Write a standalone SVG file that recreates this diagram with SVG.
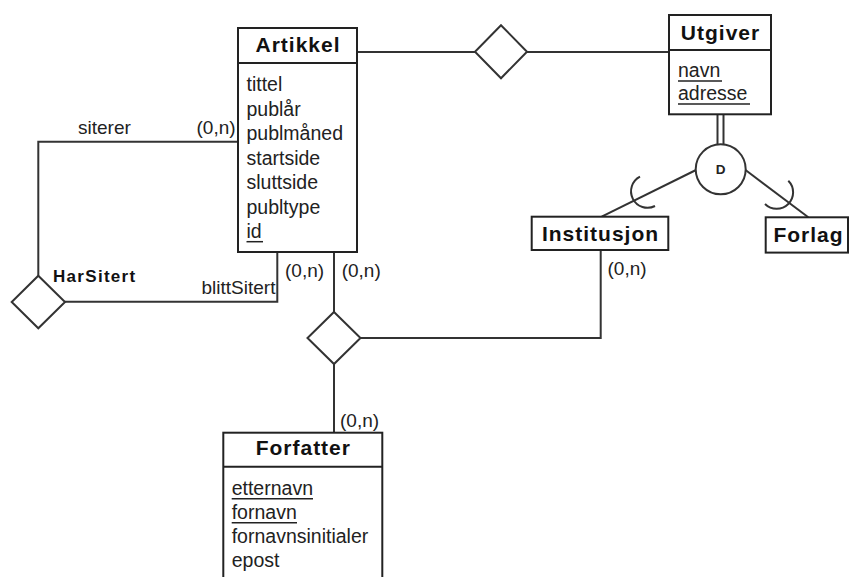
<svg xmlns="http://www.w3.org/2000/svg" width="849" height="577" viewBox="0 0 849 577">
<style>
.box{fill:#fff;stroke:#222;stroke-width:2}
.div{stroke:#222;stroke-width:2}
.conn{fill:none;stroke:#333;stroke-width:2}
.rel{fill:#fff;stroke:#333;stroke-width:2}
.ul{stroke:#222;stroke-width:1.5}
.title{font-family:"Liberation Sans",Arial,sans-serif;font-weight:bold;font-size:21px;letter-spacing:1px;text-anchor:middle;fill:#111}
.attr{font-family:"Liberation Sans",Arial,sans-serif;font-size:19.5px;fill:#222}
.lbl{font-family:"Liberation Sans",Arial,sans-serif;font-size:19px;fill:#222}
.rlbl{font-family:"Liberation Sans",Arial,sans-serif;font-weight:bold;font-size:17px;letter-spacing:1.3px;fill:#111}
.d{font-family:"Liberation Sans",Arial,sans-serif;font-weight:bold;font-size:13.5px;text-anchor:middle;fill:#222}
</style>
<rect width="849" height="577" fill="#fff"/>
<g id="connectors">
<line class="conn" x1="357" y1="52" x2="475" y2="52"/>
<line class="conn" x1="527" y1="52" x2="669" y2="52"/>
<line class="conn" x1="717.5" y1="114" x2="717.5" y2="144.5"/>
<line class="conn" x1="723.5" y1="114" x2="723.5" y2="144.5"/>
<line class="conn" x1="696" y1="170" x2="601.7" y2="216.7"/>
<line class="conn" x1="745.5" y1="170" x2="808.3" y2="217.3"/>
<path class="conn" d="M640,176.7 A16,16 0 0 0 655,206"/>
<path class="conn" d="M788.3,180.7 A16,16 0 0 1 765,204"/>
<path class="conn" d="M238,141.7 H38.3 V275.7"/>
<path class="conn" d="M65,301.7 H277.3 V252"/>
<line class="conn" x1="334" y1="252" x2="334" y2="312"/>
<path class="conn" d="M360.5,338 H600.7 V250"/>
<line class="conn" x1="334" y1="364" x2="334" y2="432.7"/>
<text class="lbl" x="78" y="133.5">siterer</text>
<text class="lbl" x="196.5" y="133.5">(0,n)</text>
<text class="lbl" x="201.5" y="293.5">blittSitert</text>
<text class="lbl" x="285" y="277">(0,n)</text>
<text class="lbl" x="341.7" y="277">(0,n)</text>
<text class="lbl" x="607.5" y="275">(0,n)</text>
<text class="lbl" x="340" y="426.5">(0,n)</text>
</g>
<g id="artikkel">
<rect class="box" x="238" y="28" width="119" height="224"/>
<line class="div" x1="238" y1="63" x2="357" y2="63"/>
<text class="title" x="298" y="52.3">Artikkel</text>
<text class="attr" x="246.5" y="91">tittel</text>
<text class="attr" x="246.5" y="115.5">publår</text>
<text class="attr" x="246.5" y="140">publmåned</text>
<text class="attr" x="246.5" y="164.5">startside</text>
<text class="attr" x="246.5" y="189">sluttside</text>
<text class="attr" x="246.5" y="213.5">publtype</text>
<text class="attr" x="246.5" y="238">id</text>
<line class="ul" x1="246.5" y1="241.7" x2="263" y2="241.7"/>
</g>
<g id="utgiver">
<rect class="box" x="669" y="15" width="102" height="99.3"/>
<line class="div" x1="669" y1="50" x2="771" y2="50"/>
<text class="title" x="720.5" y="39.5">Utgiver</text>
<text class="attr" x="678" y="76.7">navn</text>
<line class="ul" x1="678" y1="81" x2="722" y2="81"/>
<text class="attr" x="678" y="100">adresse</text>
<line class="ul" x1="678" y1="104" x2="750" y2="104"/>
</g>
<g id="rel-publiserer">
<polygon class="rel" points="501,25.2 527,51.7 501,78.2 475,51.7"/>
</g>
<g id="disjoint">
<circle class="rel" cx="720.7" cy="169.3" r="25"/>
<text class="d" x="720.7" y="174.3">D</text>
</g>
<g id="institusjon">
<rect class="box" x="531.7" y="216.7" width="136.6" height="33.3"/>
<text class="title" x="600.5" y="240.7">Institusjon</text>
</g>
<g id="forlag">
<rect class="box" x="765.7" y="217.3" width="82.3" height="35.3"/>
<text class="title" x="808.5" y="241.5">Forlag</text>
</g>
<g id="harsitert">
<polygon class="rel" points="38.3,275.7 65,302 38.3,328.3 11.7,302"/>
<text class="rlbl" x="53" y="281.7">HarSitert</text>
</g>
<g id="rel-forfatter">
<polygon class="rel" points="334,312 360.5,338 334,364 307.5,338"/>
</g>
<g id="forfatter">
<rect class="box" x="223.3" y="432.7" width="159" height="160"/>
<line class="div" x1="223.3" y1="466.7" x2="382.3" y2="466.7"/>
<text class="title" x="303.3" y="455">Forfatter</text>
<text class="attr" x="231.7" y="495">etternavn</text>
<line class="ul" x1="231.7" y1="498.7" x2="313" y2="498.7"/>
<text class="attr" x="231.7" y="519">fornavn</text>
<line class="ul" x1="231.7" y1="522.7" x2="297" y2="522.7"/>
<text class="attr" x="231.7" y="543">fornavnsinitialer</text>
<text class="attr" x="231.7" y="567">epost</text>
</g>
</svg>
